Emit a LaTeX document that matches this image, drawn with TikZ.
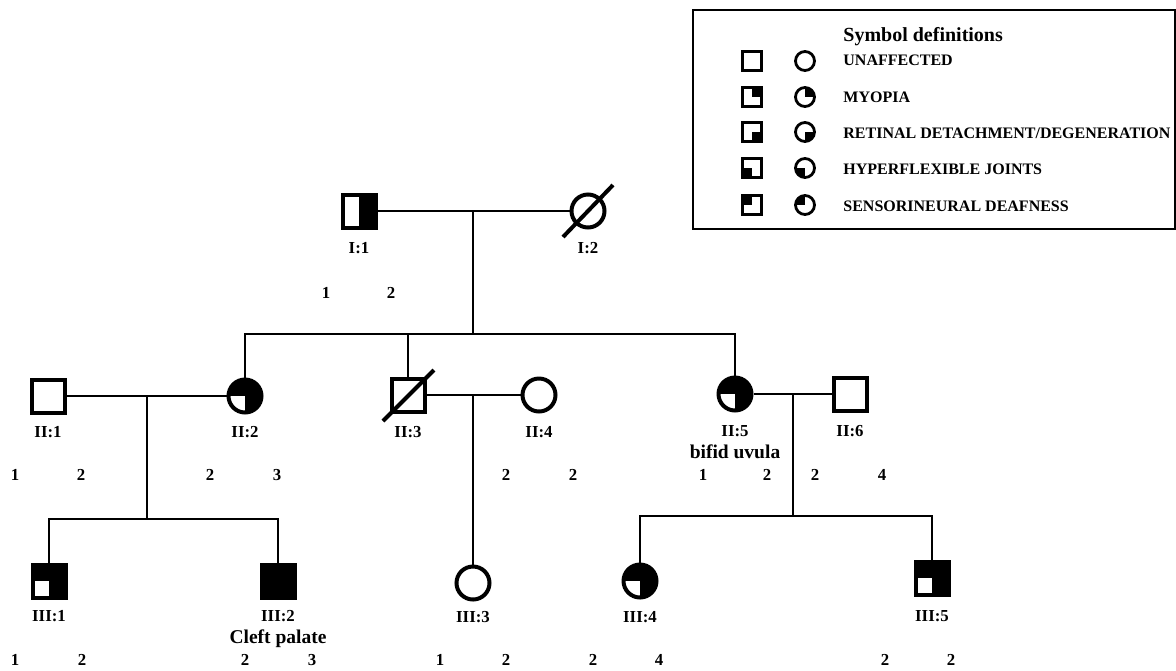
\documentclass[tikz,border=0pt]{standalone}
\usepackage{fontspec}
\setmainfont{Liberation Serif}
\tikzstyle{male-node}=[draw,rectangle,line width=2pt,minimum size=16.5pt,inner sep=0pt,fill=white]
\tikzstyle{female-node}=[draw,circle,line width=2pt,minimum size=16.5pt,inner sep=0pt,fill=white]
\tikzstyle{key-male}=[male-node,line width=1.4pt,minimum size=9.5pt]
\tikzstyle{key-female}=[female-node,line width=1.4pt,minimum size=9.5pt]
\tikzstyle{black-line}=[draw=black,line width=1.3pt]
\tikzstyle{dead-line}=[draw=black,line width=2pt]
\tikzstyle{id-text}=[font=\fontsize{8.4}{10}\selectfont\bfseries,inner sep=0pt]
\tikzstyle{note-text}=[font=\fontsize{9.75}{11}\selectfont\bfseries,inner sep=0pt]
\tikzstyle{key-text}=[font=\fontsize{8}{10}\selectfont\bfseries,anchor=west,inner sep=0pt,text height=5.3pt,text depth=0pt]
\tikzstyle{title-text}=[font=\fontsize{10}{12}\selectfont\bfseries,anchor=west,inner sep=0pt]
\tikzset{fill-q/.style={path picture={\foreach \q in {#1} {\fill[black] (path picture bounding box.center) rectangle (path picture bounding box.\q);}}}}

\begin{document}
\begin{tikzpicture}[x=0.5pt,y=-0.5pt]
	\useasboundingbox (0,0) rectangle (1176,670);

	% generation I
	\node (i1)[male-node,fill-q={north east,south east}] at (359,211) {};
	\node (i2)[female-node] at (588,211) {};
	\draw[dead-line] ([shift={(-25,26)}]i2.center) -- ([shift={(25,-26)}]i2.center);
	\node (i1-id)[id-text] at (359,248) {I:1};
	\node (i2-id)[id-text] at (588,248) {I:2};

	% generation II
	\node (ii1)[male-node] at (48,396) {};
	\node (ii2)[female-node,fill-q={north west,north east,south east}] at (245,396) {};
	\node (ii3)[male-node] at (408,395) {};
	\node (ii4)[female-node] at (539,395) {};
	\node (ii5)[female-node,fill-q={north west,north east,south east}] at (735,394) {};
	\node (ii6)[male-node] at (850,394) {};
	\draw[dead-line] ([shift={(-25,26)}]ii3.center) -- ([shift={(26,-25)}]ii3.center);
	\node (ii1-id)[id-text] at (48,432) {II:1};
	\node (ii2-id)[id-text] at (245,432) {II:2};
	\node (ii3-id)[id-text] at (408,432) {II:3};
	\node (ii4-id)[id-text] at (539,432) {II:4};
	\node (ii5-id)[id-text] at (735,431) {II:5};
	\node (ii6-id)[id-text] at (850,431) {II:6};
	\node (ii5-note)[note-text] at (735,452) {bifid uvula};

	% generation III
	\node (iii1)[male-node,fill-q={north west,north east,south east}] at (49,581) {};
	\node (iii2)[male-node,fill-q={north west,north east,south east,south west}] at (278,581) {};
	\node (iii3)[female-node] at (473,583) {};
	\node (iii4)[female-node,fill-q={north west,north east,south east}] at (640,581) {};
	\node (iii5)[male-node,fill-q={north west,north east,south east}] at (932,578) {};
	\node (iii1-id)[id-text] at (49,616) {III:1};
	\node (iii2-id)[id-text] at (278,616) {III:2};
	\node (iii3-id)[id-text] at (473,617) {III:3};
	\node (iii4-id)[id-text] at (640,617) {III:4};
	\node (iii5-id)[id-text] at (932,616) {III:5};
	\node (iii2-note)[note-text] at (278,639) {Cleft palate};

	% marker alleles
	\foreach \x/\y/\t [count=\k] in {326/293/1, 391/293/2,
		15/475/1, 81/475/2, 210/475/2, 277/475/3, 506/475/2, 573/475/2,
		703/475/1, 767/475/2, 815/475/2, 882/475/4,
		15/660/1, 82/660/2, 245/660/2, 312/660/3, 440/660/1, 506/660/2,
		593/660/2, 659/660/4, 885/660/2, 951/660/2}
		\node (allele-\k)[id-text] at (\x,\y) {\t};

	% lines of descent
	\coordinate (m1) at (473,211);
	\coordinate (s1) at (473,334);
	\coordinate (m2) at (147,396);
	\coordinate (s2) at (147,519);
	\coordinate (m3) at (473,395);
	\coordinate (m4) at (793,394);
	\coordinate (s4) at (793,516);
	\begin{scope}[every path/.style=black-line]
	\draw (i1) -- (i2);
	\draw (m1) -- (s1);
	\draw (ii2) -- (ii2 |- s1) -- (ii5 |- s1) -- (ii5);
	\draw (ii3) -- (ii3 |- s1);
	\draw (ii1) -- (ii2);
	\draw (ii3) -- (ii4);
	\draw (ii5) -- (ii6);
	\draw (m2) -- (s2);
	\draw (iii1) -- (iii1 |- s2) -- (iii2 |- s2) -- (iii2);
	\draw (m3) -- (iii3);
	\draw (m4) -- (s4);
	\draw (iii4) -- (iii4 |- s4) -- (iii5 |- s4) -- (iii5);
	\end{scope}

	% symbol key
	\draw[line width=1pt] (693,10) rectangle (1175,229);
	\node (key-title)[title-text] at (843,37) {Symbol definitions};
	\node (key-m0)[key-male] at (752,61) {};
	\node (key-f0)[key-female] at (805,61) {};
	\node (key-t0)[key-text] at (843,60) {UNAFFECTED};
	\node (key-m1)[key-male,fill-q={north east}] at (752,97) {};
	\node (key-f1)[key-female,fill-q={north east}] at (805,97) {};
	\node (key-t1)[key-text] at (843,97) {MYOPIA};
	\node (key-m2)[key-male,fill-q={south east}] at (752,132) {};
	\node (key-f2)[key-female,fill-q={south east}] at (805,132) {};
	\node (key-t2)[key-text] at (843,133) {RETINAL DETACHMENT/DEGENERATION};
	\node (key-m3)[key-male,fill-q={south west}] at (752,168) {};
	\node (key-f3)[key-female,fill-q={south west}] at (805,168) {};
	\node (key-t3)[key-text] at (843,169) {HYPERFLEXIBLE JOINTS};
	\node (key-m4)[key-male,fill-q={north west}] at (752,205) {};
	\node (key-f4)[key-female,fill-q={north west}] at (805,205) {};
	\node (key-t4)[key-text] at (843,206) {SENSORINEURAL DEAFNESS};
\end{tikzpicture}
\end{document}
